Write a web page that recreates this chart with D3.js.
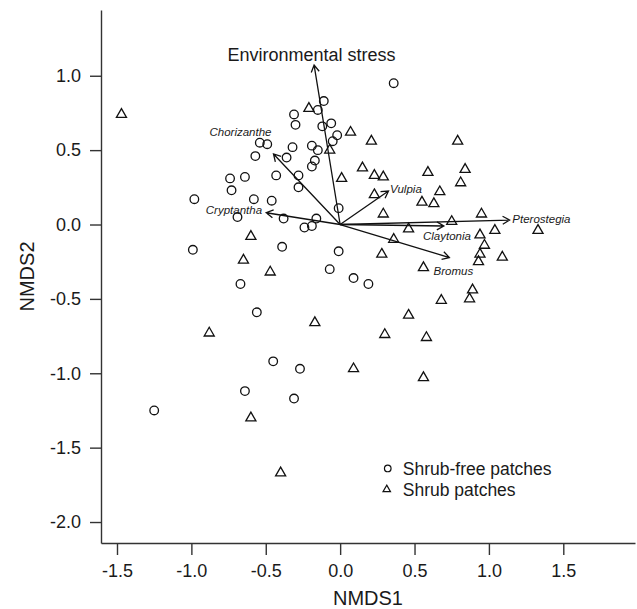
<!DOCTYPE html>
<html>
<head>
<meta charset="utf-8">
<script src="https://cdn.jsdelivr.net/npm/d3@7"></script>
<style>
  body { margin: 0; background: #fff; }
  text { font-family: "Liberation Sans", Arial, sans-serif; fill: #1a1a1a; }
</style>
</head>
<body>
<div id="plot"></div>
<script>
// NMDS site scores, shrub-free patches (circles)
var freeX = [0.36, -0.11, -0.15, -0.31, -0.30, -0.06, -0.12, -0.02, -0.05, -0.54,
  -0.49, -0.19, -0.15, -0.32, -0.57, -0.36, -0.17, -0.19, -0.43, -0.28,
  -0.74, -0.64, -0.73, -0.28, -0.98, -0.58, -0.46, -0.01, -0.69, -0.38,
  -0.16, -0.19, -0.24, -0.39, -0.99, -0.01, -0.67, -0.07, 0.09, 0.19,
  -0.56, -0.45, -0.27, -0.64, -0.31, -1.25];
var freeY = [0.95, 0.83, 0.77, 0.74, 0.67, 0.68, 0.66, 0.60, 0.56, 0.55,
  0.54, 0.53, 0.50, 0.52, 0.46, 0.45, 0.43, 0.39, 0.33, 0.33,
  0.31, 0.32, 0.23, 0.25, 0.17, 0.17, 0.16, 0.11, 0.05, 0.04,
  0.04, -0.01, -0.02, -0.15, -0.17, -0.18, -0.40, -0.30, -0.36, -0.40,
  -0.59, -0.92, -0.97, -1.12, -1.17, -1.25];

// NMDS site scores, shrub patches (triangles)
var shrubX = [-1.47, -0.21, 0.07, 0.21, 0.79, -0.07, 0.15, 0.23, 0.29, 0.01,
  0.59, 0.84, 0.81, 0.23, 0.67, 0.55, 0.63, 0.29, 0.95, 0.75,
  1.04, 1.33, 0.46, 0.94, 0.36, 0.97, 0.28, 0.94, 1.09, 0.93,
  0.56, 0.89, 0.87, 0.68, -0.60, -0.65, -0.47, -0.88, -0.17, 0.46,
  0.30, 0.58, 0.09, 0.56, -0.60, -0.40];
var shrubY = [0.74, 0.78, 0.62, 0.56, 0.56, 0.50, 0.38, 0.33, 0.32, 0.31,
  0.35, 0.37, 0.28, 0.20, 0.22, 0.15, 0.14, 0.07, 0.07, 0.02,
  -0.04, -0.04, -0.03, -0.07, -0.10, -0.14, -0.20, -0.20, -0.22, -0.25,
  -0.29, -0.44, -0.50, -0.51, -0.08, -0.24, -0.32, -0.73, -0.66, -0.61,
  -0.74, -0.76, -0.97, -1.03, -1.30, -1.67];

// fitted vectors (arrow tips) and where their labels sit
var vecNames = ["Environmental stress", "Chorizanthe", "Cryptantha", "Vulpia", "Pterostegia", "Claytonia", "Bromus"];
var vecX = [-0.175, -0.448, -0.497, 0.325, 1.139, 0.697, 0.734];
var vecY = [1.072, 0.474, 0.079, 0.225, 0.030, -0.010, -0.222];
var labX = [-0.192, -0.670, -0.714, 0.442, 1.353, 0.718, 0.761];
var labY = [1.139, 0.624, 0.097, 0.237, 0.034, -0.075, -0.310];

var xTicks = [-1.5, -1.0, -0.5, 0.0, 0.5, 1.0, 1.5];
var yTicks = [-2.0, -1.5, -1.0, -0.5, 0.0, 0.5, 1.0];
var legendLabels = ["Shrub-free patches", "Shrub patches"];

var svgWidth = 637;
var svgHeight = 609;

var margin = { top: 10, right: 2, bottom: 66, left: 101 };
var width = svgWidth - margin.left - margin.right;
var height = svgHeight - margin.top - margin.bottom;

var svg = d3.select("#plot")
  .append("svg")
  .attr("width", svgWidth)
  .attr("height", svgHeight);

var chartGroup = svg.append("g")
  .attr("transform", `translate(${margin.left}, ${margin.top})`);

var xScale = d3.scaleLinear().domain([-1.6075, 1.982]).range([0, width]);
var yScale = d3.scaleLinear().domain([-2.141, 1.442]).range([height, 0]);

// axes, L-shaped frame like base R bty="l"
var bottomAxis = d3.axisBottom(xScale)
  .tickValues(xTicks)
  .tickFormat(d => d.toFixed(1))
  .tickSizeInner(12)
  .tickSizeOuter(0)
  .tickPadding(9);

var leftAxis = d3.axisLeft(yScale)
  .tickValues(yTicks)
  .tickFormat(d => d.toFixed(1))
  .tickSizeInner(11)
  .tickSizeOuter(0)
  .tickPadding(9);

var xAxis = chartGroup.append("g")
  .attr("transform", `translate(0, ${height})`)
  .call(bottomAxis);

var yAxis = chartGroup.append("g")
  .call(leftAxis);

[xAxis, yAxis].forEach(function(ax) {
  ax.selectAll("path, line").attr("stroke", "#333").attr("stroke-width", 1.4);
  ax.selectAll("text").attr("font-size", 18).attr("fill", "#1a1a1a")
    .attr("font-family", "Liberation Sans, Arial, sans-serif");
});

// axis titles
chartGroup.append("text")
  .attr("x", width / 2)
  .attr("y", height + 62)
  .attr("text-anchor", "middle")
  .attr("font-size", 20)
  .text("NMDS1");

chartGroup.append("text")
  .attr("transform", "rotate(-90)")
  .attr("x", -(height / 2))
  .attr("y", -67)
  .attr("text-anchor", "middle")
  .attr("font-size", 20)
  .text("NMDS2");

// points
var freeData = freeX.map((x, i) => ({ x: x, y: freeY[i] }));
var shrubData = shrubX.map((x, i) => ({ x: x, y: shrubY[i] }));

chartGroup.selectAll("circle.free")
  .data(freeData)
  .enter()
  .append("circle")
  .attr("class", "free")
  .attr("cx", d => xScale(d.x))
  .attr("cy", d => yScale(d.y))
  .attr("r", 4.3)
  .attr("fill", "none")
  .attr("stroke", "#111")
  .attr("stroke-width", 1.3);

var tri = d3.symbol().type(d3.symbolTriangle).size(44);

chartGroup.selectAll("path.shrub")
  .data(shrubData)
  .enter()
  .append("path")
  .attr("class", "shrub")
  .attr("d", tri)
  .attr("transform", d => `translate(${xScale(d.x)}, ${yScale(d.y)})`)
  .attr("fill", "none")
  .attr("stroke", "#111")
  .attr("stroke-width", 1.3);

// vectors with open arrowheads
var vecData = vecNames.map((n, i) => ({ name: n, x: vecX[i], y: vecY[i], lx: labX[i], ly: labY[i] }));
var x0 = xScale(0), y0 = yScale(0);

function arrowPath(d) {
  var x1 = xScale(d.x), y1 = yScale(d.y);
  var ang = Math.atan2(y1 - y0, x1 - x0);
  var len = 8, spread = Math.PI / 6;
  var ax = x1 - len * Math.cos(ang - spread), ay = y1 - len * Math.sin(ang - spread);
  var bx = x1 - len * Math.cos(ang + spread), by = y1 - len * Math.sin(ang + spread);
  return `M${x0},${y0}L${x1},${y1}M${ax},${ay}L${x1},${y1}L${bx},${by}`;
}

chartGroup.selectAll("path.vec")
  .data(vecData)
  .enter()
  .append("path")
  .attr("class", "vec")
  .attr("d", arrowPath)
  .attr("fill", "none")
  .attr("stroke", "#111")
  .attr("stroke-width", 1.3);

chartGroup.selectAll("text.vecLabel")
  .data(vecData)
  .enter()
  .append("text")
  .attr("class", "vecLabel")
  .attr("x", d => xScale(d.lx))
  .attr("y", d => yScale(d.ly))
  .attr("dy", "0.35em")
  .attr("text-anchor", "middle")
  .attr("font-size", (d, i) => i === 0 ? 18 : 11.5)
  .attr("font-style", (d, i) => i === 0 ? "normal" : "italic")
  .text(d => d.name);

// legend
var legend = chartGroup.append("g")
  .attr("transform", `translate(${xScale(0.32)}, ${yScale(-1.64)})`);

legend.append("circle")
  .attr("cx", 0)
  .attr("cy", 0)
  .attr("r", 3.3)
  .attr("fill", "none")
  .attr("stroke", "#111")
  .attr("stroke-width", 1.2);

legend.append("path")
  .attr("d", d3.symbol().type(d3.symbolTriangle).size(24))
  .attr("transform", "translate(-1, 21)")
  .attr("fill", "none")
  .attr("stroke", "#111")
  .attr("stroke-width", 1.2);

legend.selectAll("text")
  .data(legendLabels)
  .enter()
  .append("text")
  .attr("x", 15)
  .attr("y", (d, i) => i * 21)
  .attr("dy", "0.35em")
  .attr("font-size", 17.5)
  .text(d => d);
</script>
</body>
</html>
